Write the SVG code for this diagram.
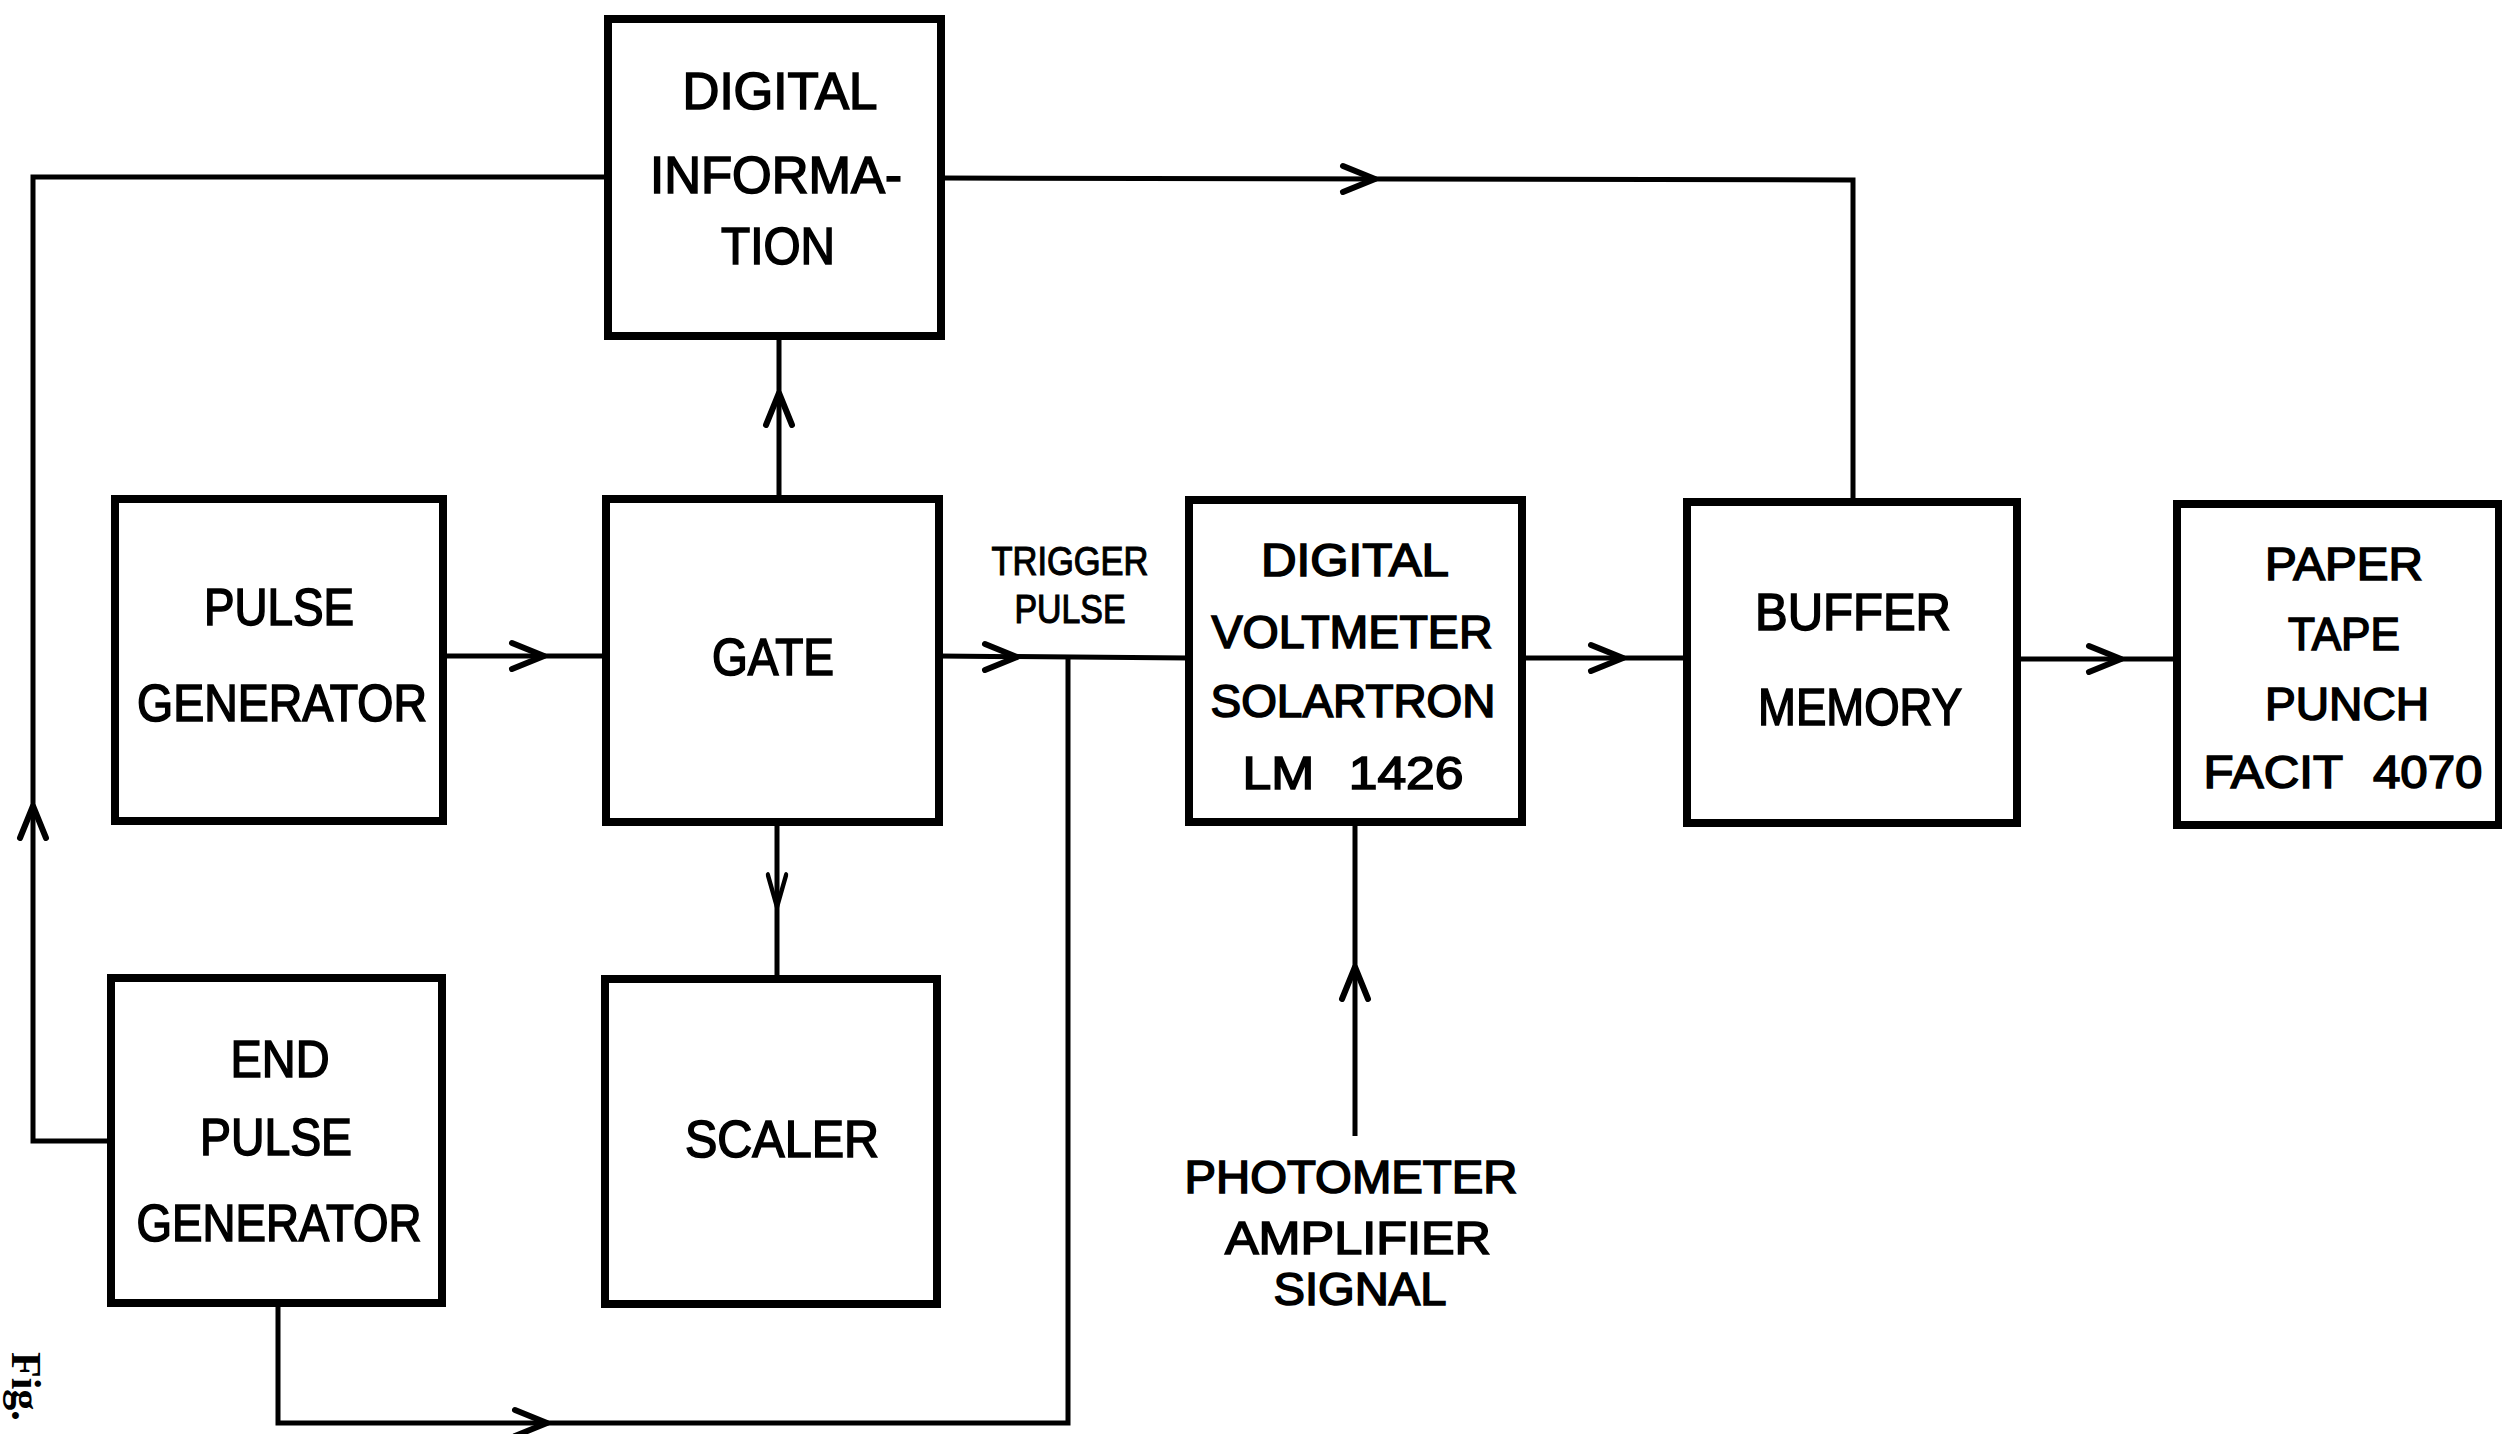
<svg xmlns="http://www.w3.org/2000/svg" xmlns:xlink="http://www.w3.org/1999/xlink" width="2502" height="1434" viewBox="0 0 2502 1434">
<style>
.box{fill:#fff;stroke:#000;stroke-width:8}
.ln{fill:none;stroke:#000;stroke-width:5;stroke-linejoin:miter}
.ah{fill:none;stroke:#000;stroke-width:6;stroke-linecap:round;stroke-linejoin:round}
.t{font-family:"Liberation Sans",Arial,sans-serif;font-size:52px;fill:#000;stroke:#000;stroke-width:1.6px;text-anchor:middle}
.s{font-size:40px;stroke-width:1.2px}
.m{font-size:46px}
.fig{font-family:"Liberation Serif","Times New Roman",serif;font-weight:bold;font-size:42px;fill:#000}
</style>
<defs>
<path id="ah" class="ah" d="M-32,-13 L0,0 L-32,13"/>
</defs>
<rect width="2502" height="1434" fill="#fff"/>

<g id="connectors">
<path class="ln" d="M111,1141 H33 V177 H608"/>
<path class="ln" d="M941,178 L1853,180 V502"/>
<path class="ln" d="M779,499 V336"/>
<path class="ln" d="M443,656 H606"/>
<path class="ln" d="M939,656 L1189,658"/>
<path class="ln" d="M278,1303 V1423 H1068 V657"/>
<path class="ln" d="M777,822 V979"/>
<path class="ln" d="M1522,658 H1687"/>
<path class="ln" d="M2017,659 H2177"/>
<path class="ln" d="M1355,1136 V822"/>
<use href="#ah" transform="translate(33,806) rotate(-90)"/>
<use href="#ah" transform="translate(1375,179)"/>
<use href="#ah" transform="translate(779,393) rotate(-90)"/>
<use href="#ah" transform="translate(544,656)"/>
<use href="#ah" transform="translate(1017,657)"/>
<use href="#ah" transform="translate(547,1423)"/>
<use href="#ah" transform="translate(777,907) rotate(90) scale(1,0.7)"/>
<use href="#ah" transform="translate(1623,658)"/>
<use href="#ah" transform="translate(2121,659)"/>
<use href="#ah" transform="translate(1355,967) rotate(-90)"/>
</g>

<g id="digital-information">
<rect class="box" x="608" y="19" width="333" height="317"/>
<text class="t" x="780" y="109" textLength="195" lengthAdjust="spacingAndGlyphs">DIGITAL</text>
<text class="t" x="776" y="193" textLength="252" lengthAdjust="spacingAndGlyphs">INFORMA-</text>
<text class="t" x="778" y="264" textLength="114" lengthAdjust="spacingAndGlyphs">TION</text>
</g>

<g id="pulse-generator">
<rect class="box" x="115" y="499" width="328" height="322"/>
<text class="t" x="279" y="625" textLength="150" lengthAdjust="spacingAndGlyphs">PULSE</text>
<text class="t" x="282" y="721" textLength="290" lengthAdjust="spacingAndGlyphs">GENERATOR</text>
</g>

<g id="gate">
<rect class="box" x="606" y="499" width="333" height="323"/>
<text class="t" x="773" y="675" textLength="122" lengthAdjust="spacingAndGlyphs">GATE</text>
</g>

<g id="trigger-pulse-label">
<text class="t s" x="1070" y="575" textLength="157" lengthAdjust="spacingAndGlyphs">TRIGGER</text>
<text class="t s" x="1070" y="623" textLength="111" lengthAdjust="spacingAndGlyphs">PULSE</text>
</g>

<g id="digital-voltmeter">
<rect class="box" x="1189" y="500" width="333" height="322"/>
<text class="t m" x="1355" y="576" textLength="188" lengthAdjust="spacingAndGlyphs">DIGITAL</text>
<text class="t m" x="1352" y="648" textLength="281" lengthAdjust="spacingAndGlyphs">VOLTMETER</text>
<text class="t m" x="1353" y="717" textLength="285" lengthAdjust="spacingAndGlyphs">SOLARTRON</text>
<text class="t m" x="1353" y="789" textLength="221" lengthAdjust="spacingAndGlyphs" style="word-spacing:18px">LM 1426</text>
</g>

<g id="buffer-memory">
<rect class="box" x="1687" y="502" width="330" height="321"/>
<text class="t" x="1853" y="630" textLength="196" lengthAdjust="spacingAndGlyphs">BUFFER</text>
<text class="t" x="1860" y="725" textLength="204" lengthAdjust="spacingAndGlyphs">MEMORY</text>
</g>

<g id="paper-tape-punch">
<rect class="box" x="2177" y="504" width="322" height="321"/>
<text class="t m" x="2344" y="580" textLength="158" lengthAdjust="spacingAndGlyphs">PAPER</text>
<text class="t m" x="2344" y="650" textLength="112" lengthAdjust="spacingAndGlyphs">TAPE</text>
<text class="t m" x="2347" y="720" textLength="164" lengthAdjust="spacingAndGlyphs">PUNCH</text>
<text class="t m" x="2343" y="788" textLength="279" lengthAdjust="spacingAndGlyphs" style="word-spacing:16px">FACIT 4070</text>
</g>

<g id="end-pulse-generator">
<rect class="box" x="111" y="978" width="331" height="325"/>
<text class="t" x="280" y="1077" textLength="99" lengthAdjust="spacingAndGlyphs">END</text>
<text class="t" x="276" y="1155" textLength="152" lengthAdjust="spacingAndGlyphs">PULSE</text>
<text class="t" x="279" y="1241" textLength="285" lengthAdjust="spacingAndGlyphs">GENERATOR</text>
</g>

<g id="scaler">
<rect class="box" x="605" y="979" width="332" height="325"/>
<text class="t" x="782" y="1157" textLength="194" lengthAdjust="spacingAndGlyphs">SCALER</text>
</g>

<g id="photometer-amplifier-signal">
<text class="t m" x="1351" y="1193" textLength="333" lengthAdjust="spacingAndGlyphs">PHOTOMETER</text>
<text class="t m" x="1358" y="1254" textLength="266" lengthAdjust="spacingAndGlyphs">AMPLIFIER</text>
<text class="t m" x="1360" y="1305" textLength="173" lengthAdjust="spacingAndGlyphs">SIGNAL</text>
</g>

<text class="fig" transform="translate(12,1352) rotate(90)">Fig.</text>
</svg>
